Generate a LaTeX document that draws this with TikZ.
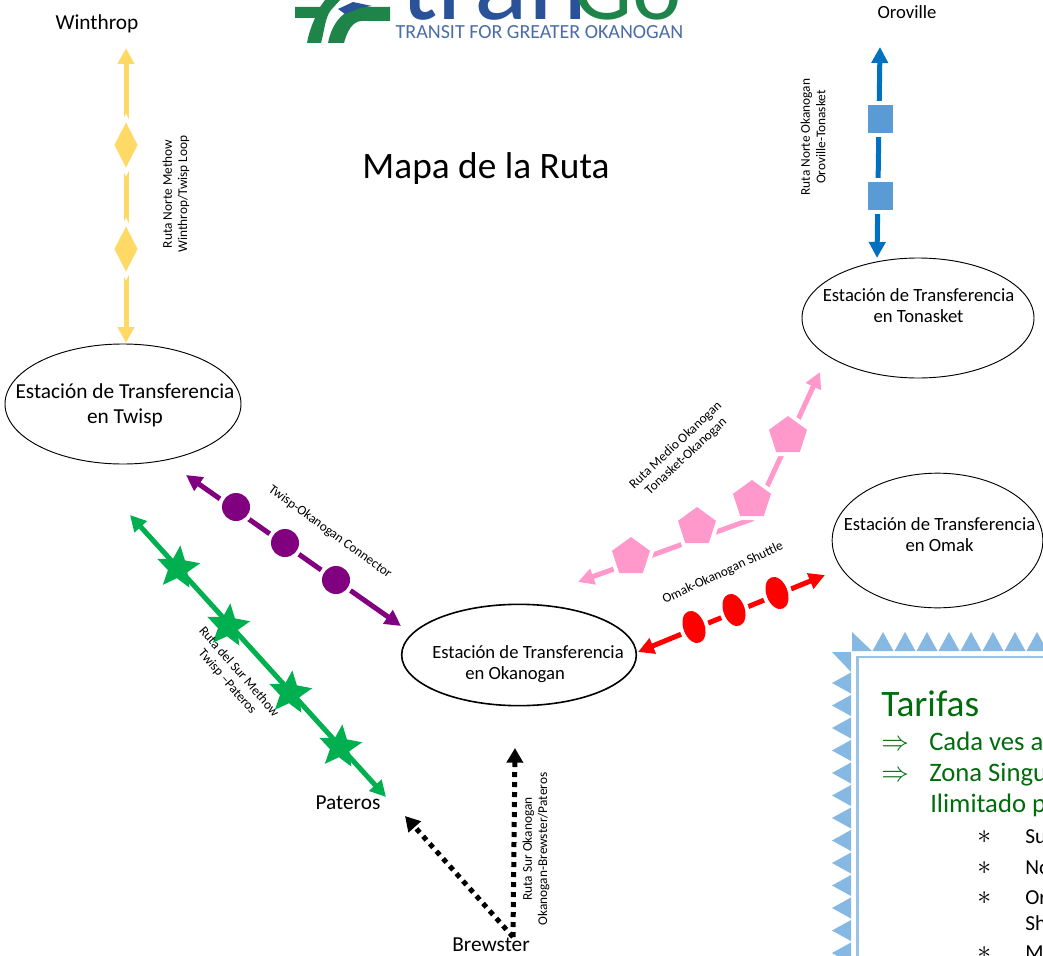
\documentclass[tikz,border=0pt]{standalone}
\usepackage{fontspec}
\setmainfont{Carlito}
\usetikzlibrary{arrows.meta,shapes.geometric}

\definecolor{logoblue}{HTML}{2A5298}
\definecolor{logogreen}{HTML}{1E8449}
\definecolor{bordblue}{HTML}{85B8E2}
\definecolor{farered}{HTML}{006C0C}
\definecolor{yellowroute}{HTML}{FFD966}
\definecolor{blueroute}{HTML}{0070C0}
\definecolor{bluestop}{HTML}{5B9BD5}
\definecolor{purpleroute}{HTML}{800080}
\definecolor{greenroute}{HTML}{00B050}
\definecolor{pinkroute}{HTML}{FF99CC}

\begin{document}
\begin{tikzpicture}[
        x=0.75pt, y=-0.75pt,
        station/.style={ellipse, draw, inner sep=0pt, line width=0.7pt},
        stationtext/.style={inner sep=0pt, align=center, font=\fontsize{14}{15.75}\selectfont},
        place/.style={inner sep=0pt, font=\fontsize{16}{18}\selectfont},
        small/.style={inner sep=0pt, align=center, font=\fontsize{10}{11.5}\selectfont},
        route/.style={line width=3.75pt, draw=#1,
        {Triangle[length=12pt,width=12pt]}-{Triangle[length=12pt,width=12pt]}},
        dotroute/.style={line width=3.75pt, dash pattern=on 3.75pt off 3.75pt,
        -{Triangle[length=11pt,width=12pt]}},
        stop/.style={fill=#1, preaction={draw=white, line width=6pt}, inner sep=0pt},
        fare/.style={inner sep=0pt, anchor=base west, text=farered,
        font=\fontsize{20}{22}\selectfont},
        item/.style={inner sep=0pt, anchor=base west, font=\fontsize{16}{18}\selectfont},
        tri/.style={fill=bordblue}
    ]
\useasboundingbox (0,0) rectangle (1043,956);
\clip (0,0) rectangle (1043,956);

% Logo
        \fill[logogreen] (295,7) -- (320,7) -- (325,0) -- (340,0) -- (331,10)
            .. controls (325,18) and (325,28) .. (321,43) -- (307,43)
            .. controls (309,32) and (312,25) .. (315,18) -- (295,18) -- cycle;
        \fill[logogreen] (390,7) -- (390,21) -- (362,21)
            .. controls (352,21) and (347,32) .. (344,43) -- (328,43)
            .. controls (332,22) and (345,7) .. (365,7) -- cycle;
        \fill[logoblue] (338,9) -- (353,2) -- (372,6) -- (360,8) -- (345,14) -- cycle;
        \node[inner sep=0pt, anchor=base west, text=logoblue,
            font=\fontsize{84}{84}\selectfont] (tran) at (400,20) {tran};
        \node[inner sep=0pt, anchor=base west, text=logogreen,
            font=\fontsize{70}{70}\selectfont] (go) at (573,20) {Go};
        \node[inner sep=0pt, text=logoblue!85!white,
            font=\fontsize{15}{17}\selectfont] (tagline) at (539.5,32) {TRANSIT FOR GREATER OKANOGAN};

% Title
        \node[inner sep=0pt, font=\fontsize{28}{30}\selectfont] (title) at (486,169) {Mapa de la Ruta};

% Transfer stations
        \node[station, minimum width=177pt, minimum height=90pt] (twisp) at (123,404) {};
        \node[station, minimum width=174pt, minimum height=90pt] (tonasket) at (918,318) {};
        \node[station, minimum width=158pt, minimum height=101pt] (omak) at (937.5,540.5) {};
        \node[station, line width=1.2pt, minimum width=176pt, minimum height=76pt] (okanogan) at (519,655) {};
        \node[stationtext, font=\fontsize{16}{18.75}\selectfont] (twisptxt) at (125,405) {Estación de Transferencia\\en Twisp};
        \node[stationtext] (tonaskettxt) at (918.5,305.5) {Estación de Transferencia\\en Tonasket};
        \node[stationtext] (omaktxt) at (939.5,534.5) {Estación de Transferencia\\en Omak};
        \node[stationtext, align=left] (okanogantxt) at (528,664) {Estación de Transferencia\\\hspace*{24.75pt}en Okanogan};

% Towns
        \node[place] (winthrop) at (97,24) {Winthrop};
        \node[place, font=\fontsize{14}{16}\selectfont] (oroville) at (907,12) {Oroville};
        \node[place] (pateros) at (348,803) {Pateros};
        \node[place] (brewster) at (491,945) {Brewster};

% Free ends of the routes
        \coordinate (wintop) at (126,48);
        \coordinate (twitop) at (126,343);
        \coordinate (orotop) at (880,47);
        \coordinate (tontop) at (877,258);
        \coordinate (twiconn) at (186,475);
        \coordinate (okaconn) at (401,626);
        \coordinate (twisur) at (130,515);
        \coordinate (patsur) at (386,797);
        \coordinate (okamed) at (578,582);
        \coordinate (bend) at (752,519);
        \coordinate (tonmed) at (820,372);
        \coordinate (okaomak) at (638,652);
        \coordinate (omakend) at (825,575);
        \coordinate (brewtop) at (513,937);
        \coordinate (okasur) at (515,748);
        \coordinate (patsurb) at (405,816);

% Routes
        \draw[route=yellowroute] (wintop) -- (twitop);
        \draw[route=blueroute] (orotop) -- (tontop);
        \draw[route=purpleroute] (twiconn) -- (okaconn);
        \draw[route=greenroute] (twisur) -- (patsur);
        \draw[route=pinkroute] (okamed) -- (bend) -- (tonmed);
        \draw[route=red] (okaomak) -- (omakend);
        \draw[dotroute] (brewtop) -- (okasur);
        \draw[dotroute] (brewtop) -- (patsurb);

% Stops on the routes
        \foreach \name/\y in {a/145,b/249}
            \node[stop=yellowroute, diamond, minimum width=17.5pt, minimum height=34pt] (dia\name) at (126,\y) {};
        \foreach \name/\y in {a/119,b/196}
            \node[stop=bluestop, rectangle, minimum width=18.75pt, minimum height=21pt] (box\name) at (880,\y) {};
        \foreach \name/\a/\b in {a/236/507,b/285/543,c/336/580}
            \node[stop=purpleroute, circle, minimum size=21pt] (dot\name) at (\a,\b) {};
        \foreach \name/\a/\b in {a/178/568,b/228/626,c/290/693,d/340/747}
            \node[fill=greenroute, star, star points=5, star point ratio=2.2,
                minimum size=34pt, inner sep=0pt, rotate=-6] (star\name) at (\a,\b) {};
        \foreach \name/\a/\b in {a/631/557,b/697/527,c/752/500,d/788/436}
            \node[stop=pinkroute, regular polygon, regular polygon sides=5, minimum size=30pt] (pent\name) at (\a,\b) {};
        \foreach \name/\a/\b in {a/694/627,b/734/610,c/777/593}
            \node[stop=red, ellipse, minimum width=16pt, minimum height=25pt, rotate=20] (oval\name) at (\a,\b) {};

% Route labels
        \node[small, rotate=90] (lbnorte) at (176,194) {Ruta Norte Methow\\Winthrop/Twisp Loop};
        \node[small, rotate=90] (lboro) at (813,137) {Ruta Norte Okanogan\\Oroville-Tonasket};
        \node[small, rotate=-36] (lbconn) at (330,532) {Twisp-Okanogan Connector};
        \node[small, rotate=-49] (lbsur) at (233,677) {Ruta del Sur Methow\\Twisp –Pateros};
        \node[small, rotate=43] (lbmedio) at (681,451) {Ruta Medio Okanogan\\Tonasket-Okanogan};
        \node[small, rotate=25] (lbomak) at (723,573) {Omak-Okanogan Shuttle};
        \node[small, rotate=90] (lbsurok) at (536,849) {Ruta Sur Okanogan\\Okanogan-Brewster/Pateros};

% Fares border
        \draw[bordblue!85!white, line width=2.2pt] (857.5,657) rectangle (1100,1000);
        \fill[tri] (852,632) -- (852,651) -- (872,651) -- cycle;
        \fill[tri] (832,652) -- (851,652) -- (851,672) -- cycle;
        \foreach \x in {883,905,...,1037}
            \fill[tri] (\x,632) -- ++(10.5,19) -- ++(-21,0) -- cycle;
        \foreach \y in {683,705.5,...,960}
            \fill[tri] (832,\y) -- ++(19,-10.5) -- ++(0,21) -- cycle;

% Fares text
        \node[fare, font=\fontsize{28}{30}\selectfont] (tarifas) at (881,716) {Tarifas};
        \node[fare] (arra) at (881,750) {$\Rightarrow$};
        \node[fare] (cada) at (929,750) {Cada ves a};
        \node[fare] (arrb) at (881,781) {$\Rightarrow$};
        \node[fare] (zona) at (929,781) {Zona Singu};
        \node[fare] (ilim) at (930,812) {Ilimitado p};
        \foreach \name/\y/\txt in {su/843/Su,no/874/No,or/904/Or,mx/959/M}{
            \node[item, font=\fontsize{20}{22}\selectfont] (ast\name) at (977,\y) {$\ast$};
            \node[item] (txt\name) at (1025,\y) {\txt};
        }
        \node[item] (txtsh) at (1025,930) {Sh};

    \end{tikzpicture}
\end{document}
